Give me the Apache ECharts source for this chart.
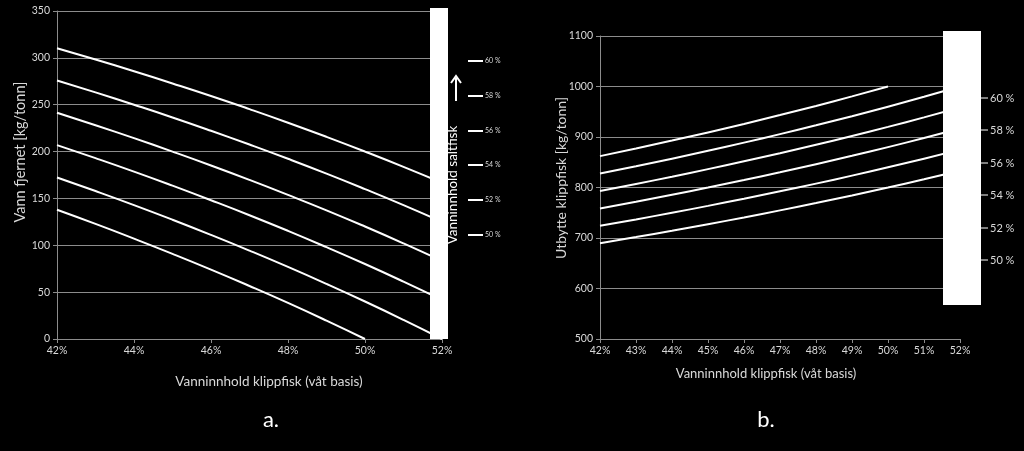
<!DOCTYPE html>
<html>
<head>
<meta charset="utf-8">
<script src="https://cdn.jsdelivr.net/npm/echarts@6/dist/echarts.min.js"></script>
<style>
html,body{margin:0;padding:0;background:#000;}
#c{width:1024px;height:451px;}
</style>
</head>
<body>
<div id="c"></div>
<script>
// x categories: water content of klippfisk (%)
const xPct = [42, 43, 44, 45, 46, 47, 48, 49, 50, 51, 52];
// legend labels (water content of saltfisk)
const saltLabels = ['60 %', '58 %', '56 %', '54 %', '52 %', '50 %'];

// Chart a: water removed [kg/tonn], one array per saltfisk water content
const removed60 = [310.3, 298.2, 285.7, 272.7, 259.3, 245.3, 230.8, 215.7, 200.0, 183.7, 166.7];
const removed58 = [275.9, 263.2, 250.0, 236.4, 222.2, 207.5, 192.3, 176.5, 160.0, 142.9, 125.0];
const removed56 = [241.4, 228.1, 214.3, 200.0, 185.2, 169.8, 153.8, 137.3, 120.0, 102.0, 83.3];
const removed54 = [206.9, 193.0, 178.6, 163.6, 148.1, 132.1, 115.4, 98.0, 80.0, 61.2, 41.7];
const removed52 = [172.4, 157.9, 142.9, 127.3, 111.1, 94.3, 76.9, 58.8, 40.0, 20.4, 0.0];
const removed50 = [137.9, 122.8, 107.1, 90.9, 74.1, 56.6, 38.5, 19.6, 0.0];

// Chart b: yield klippfisk [kg/tonn]
const yield60 = [689.7, 701.8, 714.3, 727.3, 740.7, 754.7, 769.2, 784.3, 800.0, 816.3, 833.3];
const yield58 = [724.1, 736.8, 750.0, 763.6, 777.8, 792.5, 807.7, 823.5, 840.0, 857.1, 875.0];
const yield56 = [758.6, 771.9, 785.7, 800.0, 814.8, 830.2, 846.2, 862.7, 880.0, 898.0, 916.7];
const yield54 = [793.1, 807.0, 821.4, 836.4, 851.9, 867.9, 884.6, 902.0, 920.0, 938.8, 958.3];
const yield52 = [827.6, 842.1, 857.1, 872.7, 888.9, 905.7, 923.1, 941.2, 960.0, 979.6, 1000.0];
const yield50 = [862.1, 877.2, 892.9, 909.1, 925.9, 943.4, 961.5, 980.4, 1000.0];

const removedSets = [removed60, removed58, removed56, removed54, removed52, removed50];
const yieldSets = [yield60, yield58, yield56, yield54, yield52, yield50];

const FONT = 'Lato, "Open Sans", sans-serif';
const TXT = '#d9d9d9';
const GRID = '#8c8c8c';

function pairs(arr){ return arr.map((v,i)=>[xPct[i], v]); }

const series = [];
removedSets.forEach((arr,i)=>series.push({
  type:'line', name:'a'+saltLabels[i], xAxisIndex:0, yAxisIndex:0, data:pairs(arr),
  smooth:true, symbol:'none', lineStyle:{color:'#fff', width:2}, z:3, silent:true
}));
yieldSets.forEach((arr,i)=>series.push({
  type:'line', name:'b'+saltLabels[i], xAxisIndex:1, yAxisIndex:1, data:pairs(arr),
  smooth:true, symbol:'none', lineStyle:{color:'#fff', width:2}, z:3, silent:true
}));

function xAxisCfg(grid, interval){
  return {
    type:'value', gridIndex:grid, min:42, max:52, interval:interval,
    axisLine:{show:true, lineStyle:{color:GRID, width:1}},
    axisTick:{show:true, length:4, lineStyle:{color:GRID}},
    splitLine:{show:false},
    axisLabel:{color:TXT, fontFamily:FONT, fontSize:10.5, margin:6, formatter:(v)=>v+'%'}
  };
}
function yAxisCfg(grid, min, max, interval){
  return {
    type:'value', gridIndex:grid, min:min, max:max, interval:interval,
    axisLine:{show:true, lineStyle:{color:GRID, width:1}},
    axisTick:{show:true, length:4, lineStyle:{color:GRID}},
    splitLine:{show:true, lineStyle:{color:GRID, width:1}},
    axisLabel:{color:TXT, fontFamily:FONT, fontSize:10.5, margin:7, formatter:(v)=>String(v)}
  };
}

const graphics = [];
// white cover rectangles
graphics.push({type:'rect', shape:{x:430, y:8, width:18, height:331}, style:{fill:'#fff'}, z:100});
graphics.push({type:'rect', shape:{x:943, y:31, width:38, height:274}, style:{fill:'#fff'}, z:100});

// left legend
const leftLegY = [61, 96, 131, 165, 200, 235];
saltLabels.forEach((t,i)=>{
  graphics.push({type:'line', shape:{x1:468, y1:leftLegY[i], x2:483, y2:leftLegY[i]}, style:{stroke:'#fff', lineWidth:2}, z:100});
  graphics.push({type:'text', x:485, y:leftLegY[i], style:{text:t, fill:TXT, font:'7px '+FONT, verticalAlign:'middle', textAlign:'left'}, z:100});
});
// vertical legend title + arrow
graphics.push({type:'text', x:453, y:185, rotation:Math.PI/2, style:{text:'Vanninnhold saltfisk', fill:'#fff', font:'13.5px '+FONT, textAlign:'center', verticalAlign:'middle'}, z:101});
graphics.push({type:'line', shape:{x1:456, y1:101, x2:456, y2:78}, style:{stroke:'#fff', lineWidth:2}, z:101});
graphics.push({type:'polyline', shape:{points:[[451,83],[456,76],[461,83]]}, style:{stroke:'#fff', lineWidth:2, fill:null}, z:101});

// right legend
const rightLegY = [98, 130, 163, 195, 228, 260];
saltLabels.forEach((t,i)=>{
  graphics.push({type:'line', shape:{x1:981, y1:rightLegY[i], x2:988, y2:rightLegY[i]}, style:{stroke:'#fff', lineWidth:1}, z:100});
  graphics.push({type:'text', x:990, y:rightLegY[i], style:{text:t, fill:TXT, font:'11px '+FONT, verticalAlign:'middle', textAlign:'left'}, z:100});
});

// axis titles
graphics.push({type:'text', x:20, y:152, rotation:Math.PI/2, style:{text:'Vann fjernet [kg/tonn]', fill:TXT, font:'14.5px '+FONT, textAlign:'center', verticalAlign:'middle'}});
graphics.push({type:'text', x:269, y:382, style:{text:'Vanninnhold klippfisk (våt basis)', fill:TXT, font:'13.5px '+FONT, textAlign:'center', verticalAlign:'middle'}});
graphics.push({type:'text', x:561, y:178, rotation:Math.PI/2, style:{text:'Utbytte klippfisk [kg/tonn]', fill:TXT, font:'14px '+FONT, textAlign:'center', verticalAlign:'middle'}});
graphics.push({type:'text', x:766, y:374, style:{text:'Vanninnhold klippfisk (våt basis)', fill:TXT, font:'13px '+FONT, textAlign:'center', verticalAlign:'middle'}});
// panel labels
graphics.push({type:'text', x:271, y:420, style:{text:'a.', fill:'#fff', font:'22px '+FONT, textAlign:'center', verticalAlign:'middle'}});
graphics.push({type:'text', x:766, y:420, style:{text:'b.', fill:'#fff', font:'22px '+FONT, textAlign:'center', verticalAlign:'middle'}});

const chart = echarts.init(document.getElementById('c'), null, {renderer:'canvas'});
chart.setOption({
  backgroundColor:'#000',
  animation:false,
  grid:[
    {left:57, right:1024-442, top:11, bottom:451-339},
    {left:600, right:1024-960, top:36, bottom:451-339}
  ],
  xAxis:[xAxisCfg(0,2), xAxisCfg(1,1)],
  yAxis:[yAxisCfg(0,0,350,50), yAxisCfg(1,500,1100,100)],
  series:series,
  graphic:graphics
});
</script>
</body>
</html>
